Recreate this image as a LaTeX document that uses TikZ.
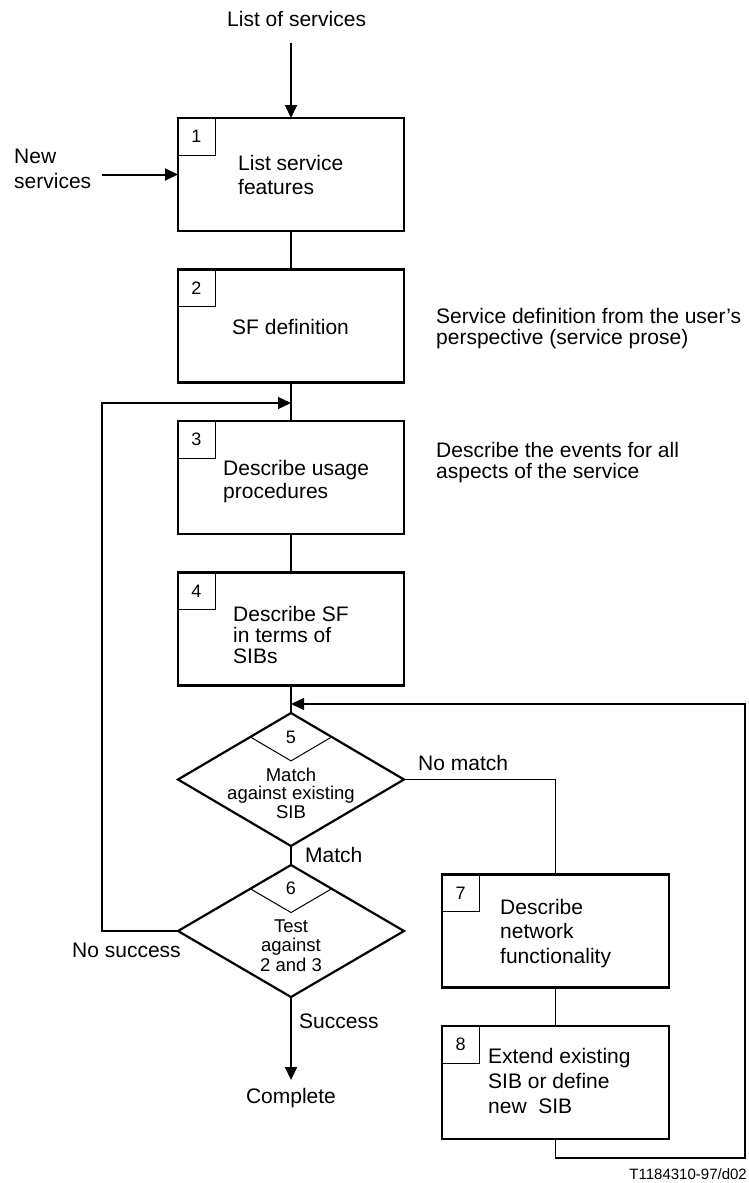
\documentclass[tikz,border=0pt]{standalone}
\usepackage{fontspec}
\setmainfont{Liberation Sans}
\usetikzlibrary{arrows.meta,shapes.geometric,calc}
\newcommand{\mylines}[1]{\begin{tabular}[t]{@{}l@{}}#1\end{tabular}}
\newcommand{\myclines}[1]{\begin{tabular}[t]{@{}c@{}}#1\end{tabular}}
\begin{document}
\begin{tikzpicture}[x=1pt,y=-1pt,
  box/.style={draw, line width=2.2pt, minimum width=226pt, minimum height=113pt, inner sep=0pt, outer sep=0pt},
  numbox/.style={draw, line width=1pt, minimum width=37pt, minimum height=37pt, inner sep=0pt, outer sep=0pt, anchor=north west, font=\fontsize{18}{20}\selectfont},
  dec/.style={draw, diamond, line width=2.2pt, minimum width=226pt, minimum height=133pt, inner sep=0pt, outer sep=0pt},
  txt/.style={inner sep=0pt, anchor=base west, font=\fontsize{21}{#1}\selectfont},
  txt/.default=24,
  ctxt/.style={inner sep=0pt, anchor=base, font=\fontsize{18.5}{#1}\selectfont},
  ctxt/.default=18,
  numtxt/.style={inner sep=0pt, font=\fontsize{18}{20}\selectfont},
  mainline/.style={line width=2pt},
  thinline/.style={line width=1.2pt},
  inner/.style={line width=1pt},
  arr/.style={-{Triangle[length=13pt,width=12pt]}}
]
\useasboundingbox (0,0) rectangle (748,1183);

% boxes
\node[box] (b1) at (291,174.5) {};
\node[box] (b2) at (291,326) {};
\node[box] (b3) at (291,477.5) {};
\node[box] (b4) at (291,629) {};
\node[box, minimum width=227pt] (b7) at (555.5,931) {};
\node[box, minimum width=227pt] (b8) at (555.5,1082.5) {};

% number boxes
\node[numbox] (n1) at (b1.north west) {1};
\node[numbox] (n2) at (b2.north west) {2};
\node[numbox] (n3) at (b3.north west) {3};
\node[numbox] (n4) at (b4.north west) {4};
\node[numbox] (n7) at (b7.north west) {7};
\node[numbox] (n8) at (b8.north west) {8};

% diamonds
\node[dec] (d5) at (291,779.5) {};
\node[dec, minimum height=132pt] (d6) at (291,931) {};
\draw[inner] ($(d5.north)!0.36!(d5.west)$) -- ($(d5.north)!0.36!(d5.south)$) -- ($(d5.north)!0.36!(d5.east)$);
\draw[inner] ($(d6.north)!0.36!(d6.west)$) -- ($(d6.north)!0.36!(d6.south)$) -- ($(d6.north)!0.36!(d6.east)$);
\node[numtxt] (n5) at (291,737) {5};
\node[numtxt] (n6) at (291,888) {6};

% box texts
\node[txt=24] (t1) at (238,170) {\mylines{List service\\features}};
\node[txt] (t2) at (232,334) {SF definition};
\node[txt=23] (t3) at (223,475) {\mylines{Describe usage\\procedures}};
\node[txt=20.5] (t4) at (233,621) {\mylines{Describe SF\\in terms of\\SIBs}};
\node[ctxt=18] (t5) at (291,781) {\myclines{Match\\against existing\\SIB}};
\node[ctxt=19.5] (t6) at (291,932) {\myclines{Test\\against\\2 and 3}};
\node[txt=24.5] (t7) at (500,914) {\mylines{Describe\\network\\functionality}};
\node[txt=25] (t8) at (488,1063) {\mylines{Extend existing\\SIB or define\\new~~SIB}};

% side texts and labels
\node[txt=20] (s2) at (436,323) {\mylines{Service definition from the user's\\perspective (service prose)}};
\node[txt=21] (s3) at (436,457) {\mylines{Describe the events for all\\aspects of the service}};
\node[txt] (ls) at (227,26) {List of services};
\node[txt=25] (ns) at (14,163) {\mylines{New\\services}};
\node[txt] (nm) at (418,770) {No match};
\node[txt] (mt) at (305,862) {Match};
\node[txt] (nsu) at (72,957) {No success};
\node[txt] (su) at (299,1028) {Success};
\node[txt, anchor=base] (cp) at (291,1103) {Complete};
\node[inner sep=0pt, anchor=base east, font=\fontsize{15}{17}\selectfont] (id) at (747,1179) {T1184310-97/d02};

% coordinates
\coordinate (top) at (291,43);
\coordinate (nsin) at (102,174.5);
\coordinate (j1) at (291,403);
\coordinate (l1) at (102,403);
\coordinate (j2) at (291,704);
\coordinate (r1) at (745,1158);
\coordinate (c1) at (291,1080);

% main connectors
\draw[mainline, arr] (top) -- (b1.north);
\draw[mainline, arr] (nsin) -- (b1.west);
\draw[mainline] (b1.south) -- (b2.north);
\draw[mainline] (b2.south) -- (b3.north);
\draw[mainline] (b3.south) -- (b4.north);
\draw[mainline] (b4.south) -- (d5.north);
\draw[mainline] (d5.south) -- (d6.north);
\draw[mainline, arr] (d6.south) -- (c1);

% loops
\draw[thinline, arr] (d6.west) -| (l1) -- (j1);
\draw[thinline] (d5.east) -| (b7.north);
\draw[thinline] (b7.south) -- (b8.north);
\draw[thinline, arr] (b8.south) |- (r1) |- (j2);
\end{tikzpicture}
\end{document}
